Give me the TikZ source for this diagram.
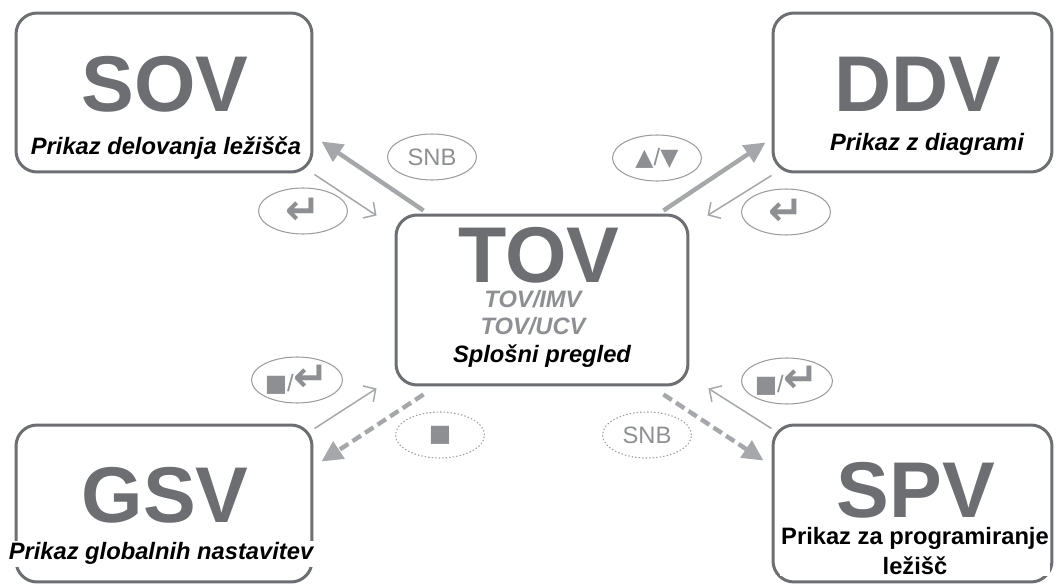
\documentclass[tikz,border=0pt]{standalone}
\usepackage{fontspec}
\setmainfont{Liberation Sans}
\newfontfamily\symfont{DejaVu Sans}
\usetikzlibrary{calc,arrows.meta,shapes.geometric}
\definecolor{boxgray}{HTML}{6D6E71}
\definecolor{linkgray}{HTML}{A5A7AA}
\definecolor{ovalgray}{HTML}{9C9C9C}
\definecolor{keygray}{HTML}{8E8F92}
\newcommand{\enterkey}{{\symfont\bfseries\fontsize{24}{24}\selectfont ↵}}

\begin{document}
\begin{tikzpicture}[x=0.02cm,y=-0.02cm,
    viewbox/.style={draw=boxgray,line width=1.7pt,rounded corners=0.42cm,inner sep=0pt},
    bigname/.style={anchor=base,inner sep=0pt,text=boxgray,font=\fontsize{45}{45}\selectfont\bfseries},
    caption/.style={anchor=base,font=\fontsize{13.5}{17.6}\selectfont\bfseries\itshape,fill=white,inner sep=1pt},
    keyoval/.style={ellipse,draw=ovalgray,line width=0.6pt,minimum width=1.78cm,minimum height=0.92cm,
      inner sep=0pt,text=keygray,font=\fontsize{13.5}{14}\selectfont},
    softkey/.style={keyoval,dash pattern=on 0.8pt off 1.2pt},
    jump/.style={draw=linkgray,line width=2.5pt,-{Triangle[length=0.42cm,width=0.4cm]}},
    back/.style={draw=linkgray,line width=0.85pt,-{Straight Barb[length=0.18cm,width=0.38cm]}}]
  \useasboundingbox (0,0) rectangle (1056,584);

  % views
  \node[viewbox,minimum width=5.92cm,minimum height=3.18cm] (sov) at (164,92.5) {};
  \node[viewbox,minimum width=5.58cm,minimum height=3.18cm] (ddv) at (912.5,92.5) {};
  \node[viewbox,minimum width=5.84cm,minimum height=3.4cm] (tov) at (542,300) {};
  \node[viewbox,minimum width=5.92cm,minimum height=3.14cm] (gsv) at (164,503.5) {};
  \node[viewbox,minimum width=5.58cm,minimum height=3.14cm] (spv) at (912.5,503.5) {};

  \node[bigname] (sovname) at (165,112) {SOV};
  \node[caption] (sovtext) at (166,155) {Prikaz delovanja ležišča};
  \node[bigname] (ddvname) at (918,112) {DDV};
  \node[caption] (ddvtext) at (927,151) {Prikaz z diagrami};
  \node[bigname] (tovname) at (539,283) {TOV};
  \node[caption,fill=none,inner sep=0pt,text=keygray] (tovimv) at (533,308) {TOV/IMV};
  \node[caption,fill=none,inner sep=0pt,text=keygray] (tovucv) at (533,335) {TOV/UCV};
  \node[caption,fill=none,inner sep=0pt] (tovtext) at (542,363) {Splošni pregled};
  \node[bigname] (gsvname) at (165,522) {GSV};
  \node[caption] (gsvtext) at (161,560) {Prikaz globalnih nastavitev};
  \node[bigname] (spvname) at (916,518) {SPV};
  \node[caption,inner sep=0.5pt,font=\fontsize{13.5}{17.6}\selectfont\bfseries,align=center] (spvtext) at (915,575)
    {Prikaz za programiranje\\ležišč};

  % keys
  \node[keyoval] (snbup) at (432,157) {SNB};
  \node[keyoval] (arrowkeys) at (657,158) {{\symfont ▲}/{\symfont ▼}};
  \node[keyoval] (entleft) at (303,211) {\enterkey};
  \node[keyoval] (entright) at (786,212) {\enterkey};
  \node[keyoval] (stopleft) at (297,380) {{\symfont ■}/\enterkey};
  \node[keyoval] (stopright) at (787,381) {{\symfont ■}/\enterkey};
  \node[softkey] (stopsoft) at (440,435) {\symfont ■};
  \node[softkey] (snbsoft) at (647,435) {SNB};

  % links
  \draw[jump] ($(tov.north west)+(29,-3)$) -- ($(sov.south east)+(8,-32)$);
  \draw[back] ($(sov.south east)+(1,1)$) -- ($(tov.north west)+(-18,2)$);
  \draw[jump] ($(tov.north east)+(-26,-3)$) -- ($(ddv.south west)+(-6,-31)$);
  \draw[back] ($(ddv.south west)+(0,2)$) -- ($(tov.north east)+(18,2)$);
  \draw[back] ($(gsv.north east)+(1,5)$) -- ($(tov.south west)+(-18,2)$);
  \draw[jump,dash pattern=on 0.2cm off 0.1cm] ($(tov.south west)+(29,8)$) -- ($(gsv.north east)+(8,38)$);
  \draw[back] ($(spv.north west)+(0,5)$) -- ($(tov.south east)+(19,2)$);
  \draw[jump,dash pattern=on 0.2cm off 0.1cm] ($(tov.south east)+(-26,8)$) -- ($(spv.north west)+(-8,37)$);
\end{tikzpicture}
\end{document}
